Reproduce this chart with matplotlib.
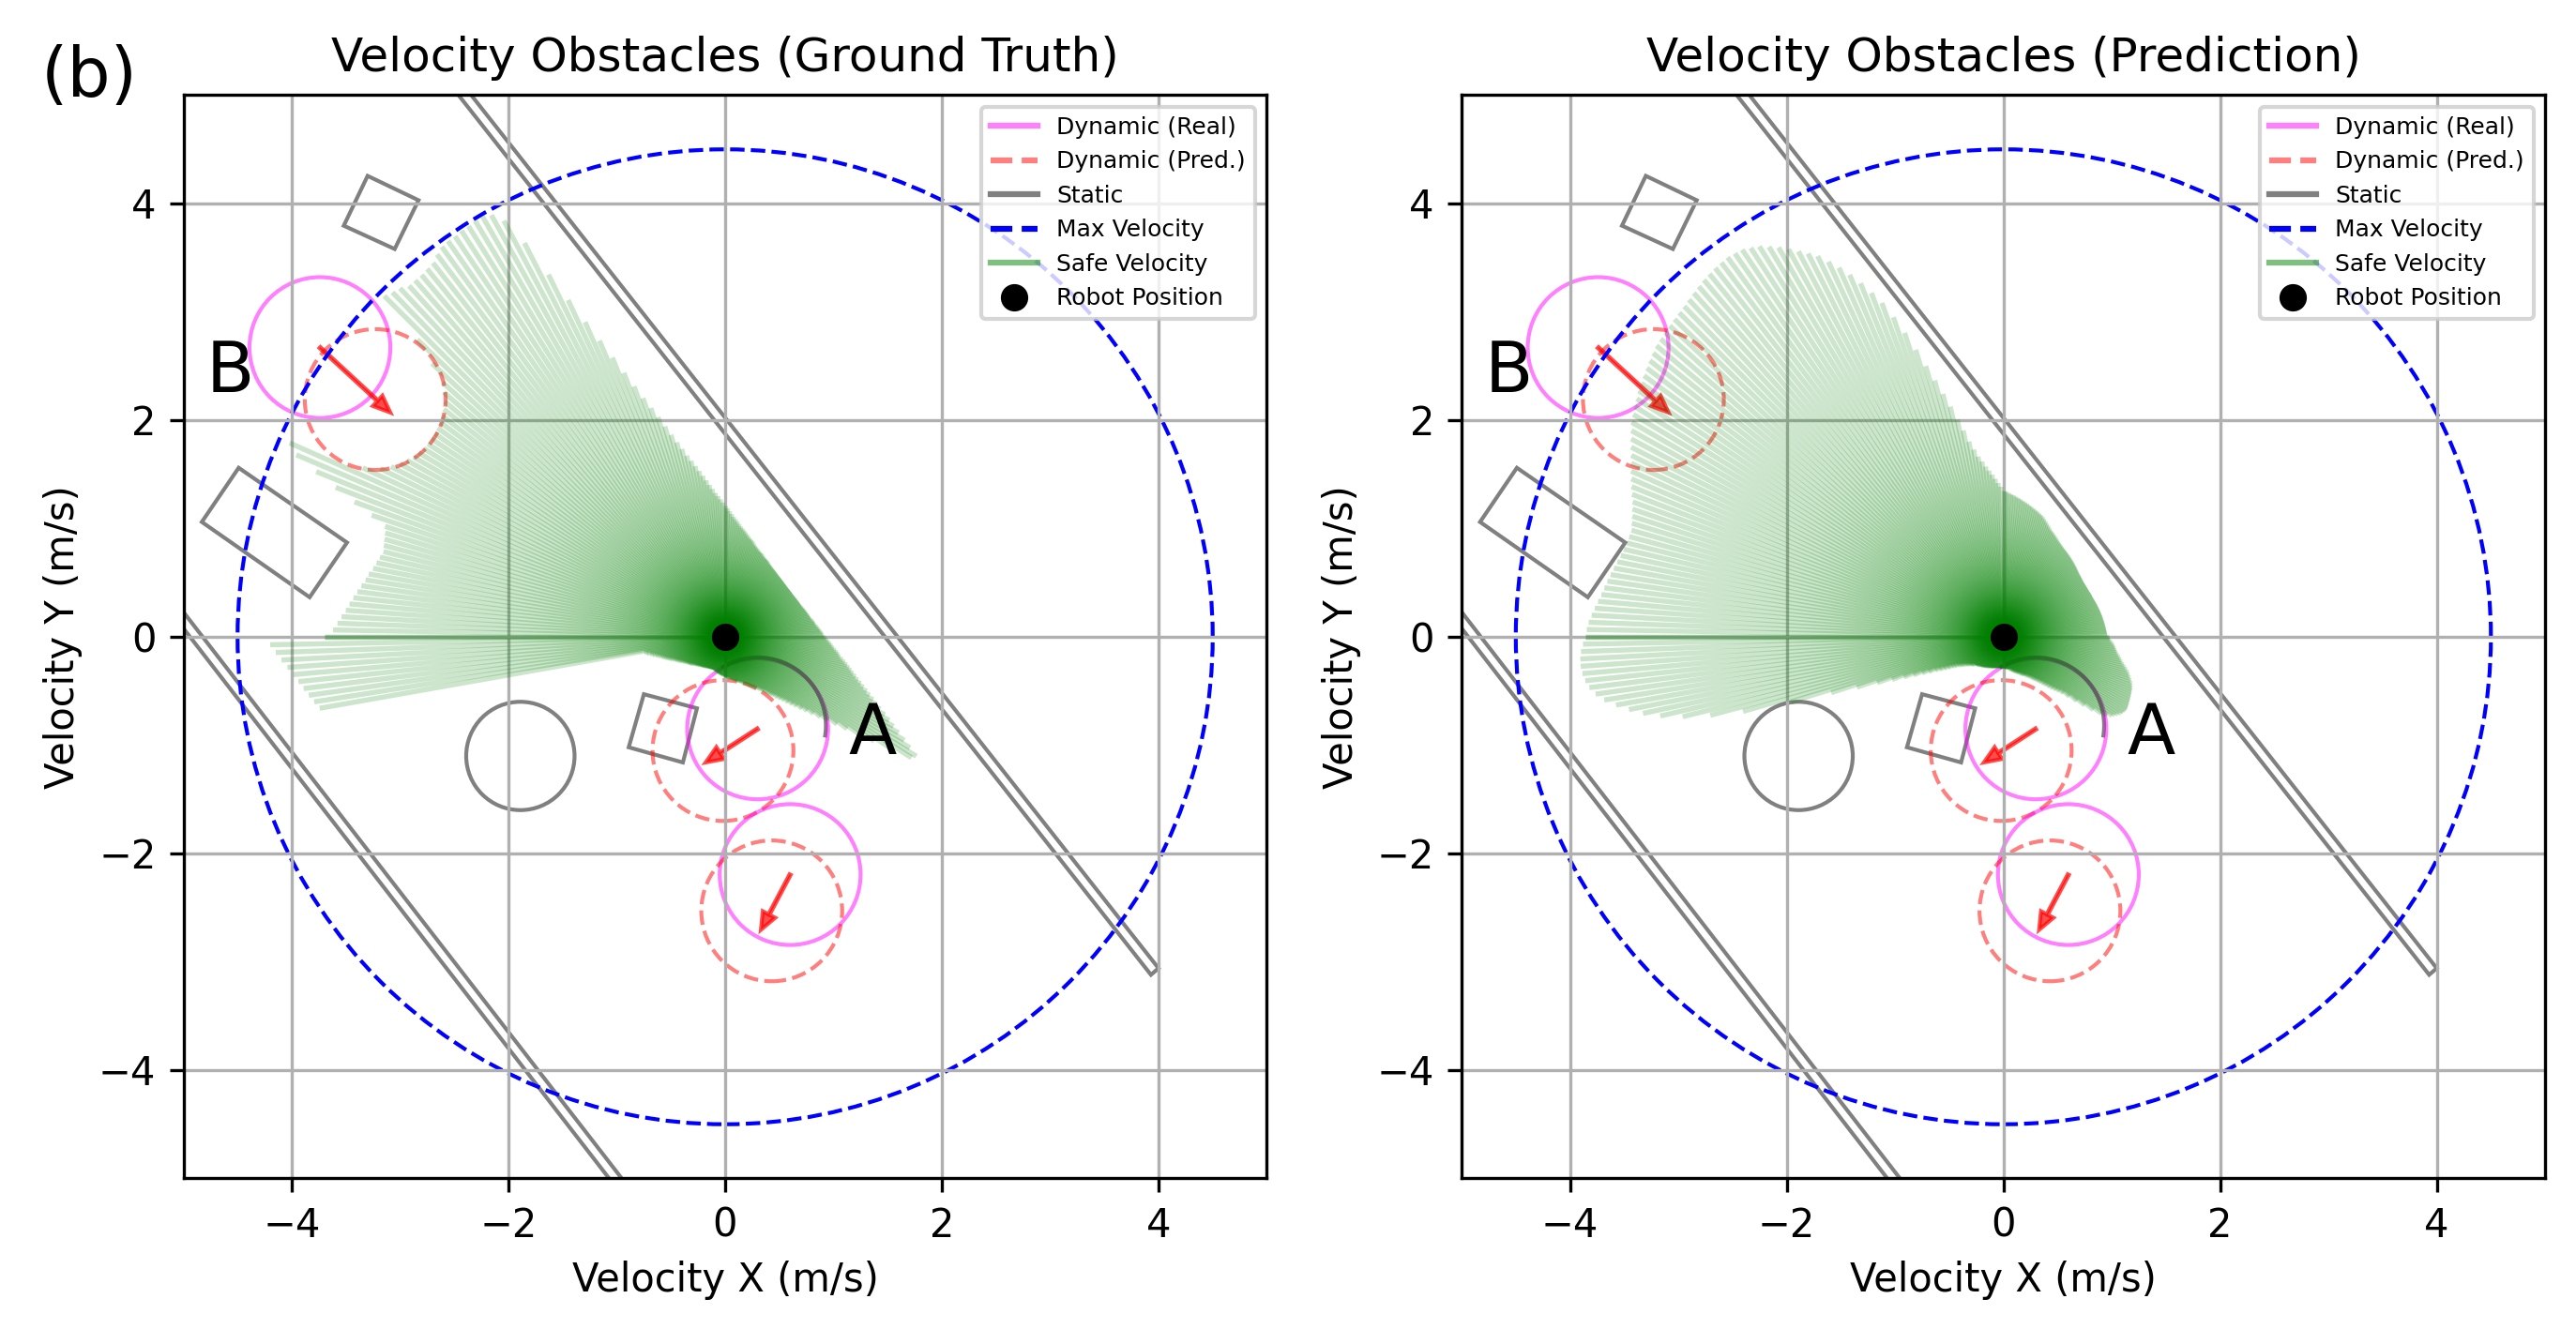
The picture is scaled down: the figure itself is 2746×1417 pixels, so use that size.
import numpy as np
import matplotlib
matplotlib.use("Agg")
import matplotlib.pyplot as plt
from matplotlib.patches import Circle, Polygon, Arc
from matplotlib.lines import Line2D

# safe-velocity fan: one ray per degree from -180 to 180, length = max safe speed (m/s)
ray_angles_deg = np.arange(-180, 181, 1)

safe_r_truth = [
    3.70, 4.20, 4.15, 4.10, 4.05, 4.00, 3.96, 3.92, 3.88, 3.84,            # -180
    3.80, 0.76, 0.74, 0.71, 0.69, 0.665, 0.645, 0.625, 0.61, 0.595,        # -170
    0.58, 0.565, 0.55, 0.535, 0.52, 0.51, 0.50, 0.49, 0.48, 0.47,          # -160
    0.46, 0.452, 0.445, 0.437, 0.43, 0.425, 0.42, 0.415, 0.41, 0.402,      # -150
    0.395, 0.39, 0.385, 0.38, 0.375, 0.372, 0.37, 0.365, 0.36, 0.357,      # -140
    0.355, 0.352, 0.35, 0.347, 0.345, 0.342, 0.34, 0.337, 0.335, 0.332,    # -130
    0.33, 0.33, 0.33, 0.327, 0.325, 0.325, 0.325, 0.322, 0.32, 0.32,       # -120
    0.32, 0.322, 0.325, 0.327, 0.33, 0.332, 0.335, 0.337, 0.34, 0.342,     # -110
    0.345, 0.347, 0.35, 0.352, 0.355, 0.357, 0.36, 0.362, 0.365, 0.367,    # -100
    0.37, 0.372, 0.375, 0.377, 0.38, 0.385, 0.39, 0.392, 0.395, 0.397,     # -90
    0.40, 0.405, 0.41, 0.415, 0.42, 0.425, 0.43, 0.435, 0.44, 0.445,       # -80
    0.45, 0.457, 0.465, 0.472, 0.48, 0.49, 0.50, 0.51, 0.52, 0.53,         # -70
    0.54, 0.55, 0.56, 0.575, 0.59, 0.605, 0.62, 0.645, 0.67, 0.69,         # -60
    0.71, 0.74, 0.77, 0.80, 0.84, 0.88, 0.92, 0.97, 1.02, 1.08,            # -50
    1.15, 1.22, 1.31, 1.41, 1.53, 1.68, 1.85, 2.05, 2.08, 1.99,            # -40
    1.91, 1.83, 1.76, 1.70, 1.64, 1.58, 1.53, 1.485, 1.44, 1.40,           # -30
    1.36, 1.325, 1.29, 1.26, 1.23, 1.205, 1.18, 1.155, 1.13, 1.105,        # -20
    1.08, 1.065, 1.05, 1.03, 1.01, 0.995, 0.98, 0.965, 0.95, 0.935,        # -10
    0.92, 0.91, 0.90, 0.89, 0.88, 0.87, 0.86, 0.85, 0.84, 0.835,           # 0
    0.83, 0.82, 0.81, 0.805, 0.80, 0.795, 0.79, 0.785, 0.78, 0.775,        # 10
    0.77, 0.765, 0.76, 0.757, 0.755, 0.752, 0.75, 0.747, 0.745, 0.742,     # 20
    0.74, 0.738, 0.737, 0.736, 0.736, 0.735, 0.734, 0.734, 0.734, 0.734,   # 30
    0.735, 0.736, 0.737, 0.738, 0.74, 0.742, 0.743, 0.745, 0.747, 0.75,    # 40
    0.752, 0.756, 0.76, 0.763, 0.766, 0.77, 0.775, 0.78, 0.785, 0.79,      # 50
    0.80, 0.805, 0.81, 0.815, 0.82, 0.83, 0.84, 0.845, 0.85, 0.86,         # 60
    0.87, 0.88, 0.89, 0.905, 0.92, 0.93, 0.94, 0.955, 0.97, 0.985,         # 70
    1.00, 1.015, 1.03, 1.05, 1.07, 1.09, 1.11, 1.135, 1.16, 1.185,         # 80
    1.21, 1.24, 1.27, 1.30, 1.33, 1.37, 1.41, 1.455, 1.50, 1.55,           # 90
    1.60, 1.655, 1.71, 1.78, 1.85, 1.93, 2.02, 2.12, 2.22, 2.33,           # 100
    2.46, 2.61, 2.78, 2.97, 3.18, 3.43, 3.72, 4.08, 4.35, 4.45,            # 110
    4.48, 4.48, 4.47, 4.47, 4.46, 4.46, 4.45, 4.42, 4.38, 4.37,            # 120
    4.36, 4.36, 4.36, 4.40, 4.42, 4.45, 3.95, 3.70, 3.51, 3.44,            # 130
    3.38, 3.34, 3.31, 3.29, 3.28, 3.27, 3.27, 3.27, 3.28, 3.30,            # 140
    3.32, 3.36, 3.40, 3.46, 3.54, 3.69, 4.40, 4.30, 4.07, 3.85,            # 150
    3.64, 3.45, 3.30, 3.28, 3.27, 3.26, 3.25, 3.27, 3.29, 3.31,            # 160
    3.34, 3.36, 3.39, 3.42, 3.45, 3.48, 3.51, 3.545, 3.58, 3.62,           # 170
    3.70,                                                                  # 180
]

safe_r_pred = [
    3.86, 3.88, 3.90, 3.91, 3.91, 3.90, 3.88, 3.85, 3.80, 3.73,            # -180
    3.63, 3.52, 3.40, 3.25, 3.05, 2.80, 2.50, 2.05, 1.67, 1.43,            # -170
    1.24, 1.10, 0.99, 0.90, 0.82, 0.76, 0.70, 0.66, 0.62, 0.585,           # -160
    0.55, 0.525, 0.50, 0.485, 0.47, 0.455, 0.44, 0.43, 0.42, 0.41,         # -150
    0.40, 0.395, 0.39, 0.38, 0.37, 0.367, 0.365, 0.362, 0.36, 0.355,       # -140
    0.35, 0.347, 0.345, 0.342, 0.34, 0.337, 0.335, 0.332, 0.33, 0.327,     # -130
    0.325, 0.322, 0.32, 0.317, 0.315, 0.312, 0.31, 0.31, 0.31, 0.307,      # -120
    0.305, 0.302, 0.30, 0.30, 0.30, 0.297, 0.295, 0.295, 0.295, 0.292,     # -110
    0.29, 0.29, 0.29, 0.29, 0.29, 0.29, 0.29, 0.29, 0.29, 0.29,            # -100
    0.29, 0.29, 0.29, 0.292, 0.295, 0.297, 0.30, 0.30, 0.30, 0.30,         # -90
    0.30, 0.305, 0.31, 0.315, 0.32, 0.325, 0.33, 0.335, 0.34, 0.345,       # -80
    0.35, 0.355, 0.36, 0.365, 0.37, 0.377, 0.385, 0.392, 0.40, 0.405,      # -70
    0.41, 0.42, 0.43, 0.44, 0.45, 0.465, 0.48, 0.495, 0.51, 0.53,          # -60
    0.55, 0.575, 0.60, 0.63, 0.66, 0.69, 0.72, 0.76, 0.82, 0.90,           # -50
    0.98, 1.07, 1.15, 1.20, 1.24, 1.26, 1.28, 1.30, 1.31, 1.32,            # -40
    1.32, 1.315, 1.31, 1.305, 1.30, 1.295, 1.29, 1.285, 1.28, 1.27,        # -30
    1.26, 1.245, 1.23, 1.215, 1.20, 1.18, 1.16, 1.14, 1.12, 1.105,         # -20
    1.09, 1.075, 1.06, 1.05, 1.04, 1.03, 1.02, 1.005, 0.99, 0.98,          # -10
    0.97, 0.96, 0.955, 0.952, 0.95, 0.947, 0.945, 0.942, 0.94, 0.937,      # 0
    0.935, 0.932, 0.93, 0.927, 0.925, 0.922, 0.92, 0.917, 0.915, 0.912,    # 10
    0.91, 0.907, 0.905, 0.902, 0.90, 0.90, 0.90, 0.897, 0.895, 0.895,      # 20
    0.895, 0.895, 0.895, 0.895, 0.895, 0.897, 0.90, 0.902, 0.905, 0.907,   # 30
    0.91, 0.915, 0.92, 0.925, 0.93, 0.935, 0.94, 0.945, 0.95, 0.955,       # 40
    0.96, 0.965, 0.97, 0.975, 0.98, 0.985, 0.99, 0.997, 1.005, 1.012,      # 50
    1.02, 1.03, 1.04, 1.05, 1.06, 1.07, 1.08, 1.095, 1.11, 1.125,          # 60
    1.14, 1.155, 1.17, 1.18, 1.19, 1.20, 1.21, 1.22, 1.23, 1.24,           # 70
    1.25, 1.26, 1.27, 1.28, 1.29, 1.30, 1.31, 1.32, 1.33, 1.34,            # 80
    1.35, 1.385, 1.42, 1.46, 1.50, 1.54, 1.58, 1.63, 1.68, 1.75,           # 90
    1.83, 1.94, 2.05, 2.18, 2.31, 2.45, 2.60, 2.77, 2.95, 3.12,            # 100
    3.28, 3.40, 3.52, 3.63, 3.73, 3.82, 3.91, 3.97, 4.03, 4.09,            # 110
    4.15, 4.20, 4.25, 4.28, 4.31, 4.32, 4.33, 4.325, 4.32, 4.31,           # 120
    4.30, 4.285, 4.27, 4.255, 4.24, 4.23, 4.22, 4.21, 4.20, 4.19,          # 130
    4.18, 4.16, 4.14, 4.12, 4.10, 4.08, 4.06, 4.035, 4.01, 3.985,          # 140
    3.96, 3.925, 3.89, 3.855, 3.82, 3.79, 3.76, 3.73, 3.70, 3.67,          # 150
    3.64, 3.62, 3.60, 3.585, 3.57, 3.575, 3.58, 3.595, 3.61, 3.63,         # 160
    3.65, 3.67, 3.69, 3.71, 3.73, 3.755, 3.78, 3.805, 3.83, 3.845,         # 170
    3.86,                                                                  # 180
]

max_speed = 4.5

# static obstacles in velocity space
walls = [
    [(4.00, -3.06), (-3.02, 5.86), (-3.09, 5.80), (3.93, -3.12)],
    [(-5.62, 1.03), (-0.32, -5.82), (-0.39, -5.88), (-5.69, 0.97)],
]
boxes = [
    [(-3.30, 4.255), (-2.83, 4.03), (-3.05, 3.58), (-3.52, 3.795)],
    [(-4.49, 1.56), (-3.49, 0.87), (-3.835, 0.365), (-4.83, 1.06)],
    [(-0.75, -0.53), (-0.26, -0.66), (-0.39, -1.16), (-0.89, -1.02)],
]
static_circle_xy = (-1.89, -1.10)
static_circle_r = 0.50
static_arc_xy = (0.30, -0.82)
static_arc_r = 0.63
static_arc_deg = (-10, 122)

# dynamic obstacles: real and predicted positions, arrow = velocity
dyn_real_x = [-3.74, 0.30, 0.60]
dyn_real_y = [2.67, -0.85, -2.195]
dyn_pred_x = [-3.23, -0.02, 0.43]
dyn_pred_y = [2.19, -1.05, -2.53]
dyn_r = 0.65
dyn_vx = [0.65, -0.48, -0.27]
dyn_vy = [-0.60, -0.31, -0.51]

titles = ["Velocity Obstacles (Ground Truth)", "Velocity Obstacles (Prediction)"]
fans = [safe_r_truth, safe_r_pred]
assert all(len(f) == len(ray_angles_deg) for f in fans)

fig = plt.figure(figsize=(2746 / 300, 1417 / 300), dpi=300)
axes = [fig.add_axes([0.0712, 0.1133, 0.4206, 0.8151]),
        fig.add_axes([0.5674, 0.1133, 0.4206, 0.8151])]

th = np.deg2rad(ray_angles_deg)
for ax, title, radii in zip(axes, titles, fans):
    for t, r in zip(th, radii):
        ax.plot([0, r * np.cos(t)], [0, r * np.sin(t)], color="green",
                alpha=0.2, lw=1.3, solid_capstyle="butt")

    for w in walls + boxes:
        ax.add_patch(Polygon(w, closed=True, fill=False, edgecolor="gray", lw=1))
    ax.add_patch(Circle(static_circle_xy, static_circle_r, fill=False, edgecolor="gray", lw=1))
    ax.add_patch(Arc(static_arc_xy, 2 * static_arc_r, 2 * static_arc_r,
                     theta1=static_arc_deg[0], theta2=static_arc_deg[1], edgecolor="gray", lw=1))

    for i in range(len(dyn_real_x)):
        ax.add_patch(Circle((dyn_real_x[i], dyn_real_y[i]), dyn_r, fill=False,
                            edgecolor="magenta", alpha=0.5, lw=1))
        ax.add_patch(Circle((dyn_pred_x[i], dyn_pred_y[i]), dyn_r, fill=False,
                            edgecolor="red", ls="--", alpha=0.5, lw=1))
        ax.arrow(dyn_real_x[i], dyn_real_y[i], dyn_vx[i], dyn_vy[i], width=0.012,
                 head_width=0.13, head_length=0.16, length_includes_head=True,
                 fc="red", ec="red", alpha=0.7)

    ax.add_patch(Circle((0, 0), max_speed, fill=False, edgecolor="blue", ls="--", lw=1))
    ax.plot(0, 0, "ko", markersize=6)

    ax.text(1.14, -1.08, "A", fontsize=18)
    ax.text(-4.79, 2.26, "B", fontsize=18)

    ax.set_xlim(-5, 5)
    ax.set_ylim(-5, 5)
    ax.set_aspect("equal")
    ax.grid(True)
    ax.set_title(title)
    ax.set_xlabel("Velocity X (m/s)")
    ax.set_ylabel("Velocity Y (m/s)")

    handles = [
        Line2D([], [], color="magenta", alpha=0.5, lw=1.5),
        Line2D([], [], color="red", alpha=0.5, lw=1.5, ls="--"),
        Line2D([], [], color="gray", lw=1.5),
        Line2D([], [], color="blue", lw=1.5, ls="--"),
        Line2D([], [], color="green", alpha=0.5, lw=1.5),
        Line2D([], [], color="black", marker="o", ls="none", markersize=6),
    ]
    labels = ["Dynamic (Real)", "Dynamic (Pred.)", "Static", "Max Velocity",
              "Safe Velocity", "Robot Position"]
    ax.legend(handles, labels, loc="upper right", fontsize=6)

fig.text(0.016, 0.927, "(b)", fontsize=17.5)

fig.savefig("out.png", dpi=300)
